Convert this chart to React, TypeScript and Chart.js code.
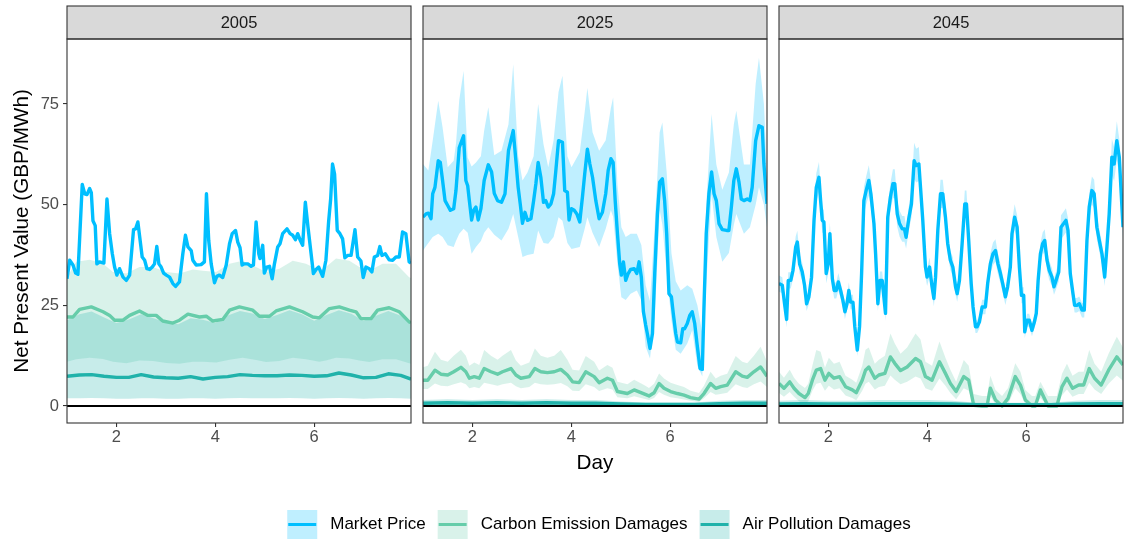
import React, { useEffect, useRef } from "react";
import { Chart, registerables } from "chart.js";

Chart.register(...registerables);

const FONT = '"Liberation Sans", Arial, Helvetica, sans-serif';

// ---------- labels ----------
const panelYears = ["2005", "2025", "2045"];
const seriesNames = ["Market Price", "Carbon Emission Damages", "Air Pollution Damages"];
const xTickValues = [2, 4, 6];
const yTickValues = [0, 25, 50, 75];
const xTitle = "Day";
const yTitle = "Net Present Value (GBP/MWh)";
const dayStart = 1;
const dayEnd = 1 + 167 / 24;
const zeroLineValue = 0;

// ---------- 2005 ----------
const mp2005Hours = [0,1.3,2.9,4.2,5.3,7.4,8.6,9.7,11,11.8,12.6,13.7,14.5,15.8,17.9,19.4,20.7,22,23.1,24.2,25.5,27.2,28.8,30.4,32.3,33.3,34.4,36.5,37.7,38.8,40.1,41.4,42.5,43.6,44.6,45.7,46.9,48.2,49.8,51.4,52.7,54.6,56.2,57.5,58.7,60.3,61.1,62.7,65.1,66.7,67.7,68.8,70,71.6,72.7,74,75.6,77.3,78.9,80.2,81.8,82.9,84,85,86.1,87.8,89.4,90.5,91.8,93.1,93.7,95,95.8,97,98.3,99.6,100.7,102.3,103.4,104.7,106.8,108.3,109.6,110.9,112,113.1,114.4,115.7,117,118.5,119.6,120.9,122.2,124.1,125.7,127,128,128.9,129.9,131.2,132.5,133.8,134.9,136.2,137.9,139.8,141.1,142.7,143.8,145.1,146.7,148,149.2,150.8,151.9,152.9,154.5,156.4,158.1,159.7,161.3,162.9,164.5,166.1,167];
const mp2005Values = [31.6,36.2,35,33,32.7,55,52.7,52.5,54,53,46,44.8,35.3,35.8,35.5,51.4,42.8,37.8,34.5,32.5,34.1,32,31.2,32.5,43.8,44,45.7,37,36.2,34.1,33.9,34.5,35.3,39.6,35.3,34.5,33,32.5,32,30.4,29.7,30.8,37.7,42.4,39.5,38.6,36.2,35,35.1,35.8,52.7,41.1,35.3,30.6,32.2,32.5,31.9,35,40.3,42.8,43.6,40.7,39.3,35,35.3,35.3,34.7,35,45.7,37.8,36.6,39.9,33,34.5,34.7,31.6,35.3,39.5,40.3,42.8,44,42.8,42.4,41.3,42.8,41.3,39.9,50.6,44.4,37.8,32.9,33.9,34.5,32.2,36.2,45.7,51.4,60.1,57.6,43.6,42.8,41.5,36.8,37.4,37.4,43.8,37,36,31.9,34.5,34.1,33.3,37,37.4,39.6,37.4,37.8,36.3,36.2,37,37,43.2,42.8,35.8,35.5];

const carbon2005Hours = [0,2.9,6.1,11.8,17.5,20.7,23.1,27.2,30.4,35.2,39.3,43.3,46.5,51.4,54.6,58.7,64.3,67.6,70.8,75.6,78.9,83.7,90.2,93.4,98.3,101.5,108,114.4,119.3,122.5,127.4,132.2,137.1,140.3,142.7,147.6,150.8,156.4,161.3,166.1,167];
const carbon2005Values = [22.1,22.1,24,24.6,23.4,22.5,21.3,21.3,22.5,23.6,22.5,22.5,21.1,20.6,21.3,22.8,22.1,22.3,21.1,21.5,23.8,24.6,23.8,22.3,22.3,23.6,24.6,23.4,22.1,21.9,24.2,24.6,23.8,23.4,21.7,21.7,23.8,24.4,23.4,20.9,20.7];
const carbonBand2005Hours = [0,4.5,11,17.5,22.3,28.8,35.2,41.7,48.2,54.6,61.1,65.9,72.4,78.9,85.3,91.8,96.6,103.1,109.6,116,122.5,125.7,130.6,137.1,141.9,146.7,153.2,159.7,166.1,167];
const carbonBand2005Low = [11,11.6,12,11.7,11,10.6,11.3,11.2,10.7,10.5,11,11,10.8,11.5,12,11.4,10.9,11.2,12,11.6,11,11.3,12,11.8,11.3,10.9,11.6,11.6,10.6,10.5];
const carbonBand2005High = [32,35.8,36.3,35.3,33.3,32.9,34.5,34.5,33.3,32.9,33.9,33.6,33.3,35.3,36.1,34.5,33.3,34.1,36.1,35.3,33.7,34.5,36.6,36.1,34.5,33.6,35.3,35.3,32,31.8];

const air2005Hours = [0,6,12,18,24,30,36,42,48,54,60,66,72,78,84,90,96,102,108,114,120,126,132,138,144,150,156,162,167];
const air2005Values = [7.4,7.7,7.8,7.4,7.1,7.1,7.8,7.2,7.0,6.9,7.3,6.7,7.1,7.3,7.8,7.6,7.5,7.5,7.7,7.6,7.4,7.5,8.2,7.7,7.0,7.1,8.0,7.6,6.7];
const airBand2005Low = [1.9,1.9,2.0,1.9,1.8,1.8,1.9,1.9,1.8,1.8,1.9,1.9,1.8,1.9,2.0,1.9,1.9,1.9,2.0,1.9,1.8,1.9,2.0,1.9,1.8,1.9,2.0,1.9,1.8];
const airBand2005High = [21.3,22.8,23.5,22,20.6,21.5,22.8,21.8,20.8,20.3,21.8,21.4,20.6,22.5,23.6,23,21.6,22.6,23.8,22.8,21.2,22.6,23.8,22.9,21.2,22.4,23.6,22.4,20.4];

// ---------- 2025 ----------
const mp2025Hours = [0,1.5,2.6,3.9,4.7,5.8,7.4,8.4,9.5,10.7,12,13.3,14.9,16,17.6,19.7,20.8,21.7,22.5,23.6,24.6,25.7,26.8,28.1,29.7,31.7,33.3,34.6,36.2,38.1,39.8,41.5,43.8,45.1,46.2,47.2,48.3,49.5,50.7,52.4,53.7,54.8,55.9,57.2,58.5,59.6,60.8,62.1,63.4,64.5,65.8,67.7,68.8,70.1,70.9,72.1,73.4,74.7,76.1,77.4,78.5,79.8,81,82.3,83.9,85.5,87.1,88.7,89.9,91.2,92.3,93.3,94.4,95.5,96.3,97.3,98.4,99.6,100.8,102.5,103.8,104.9,106,107,108.1,108.9,110.2,111.4,112.5,113.8,114.9,116.2,117.3,118.3,119.4,120.6,121.5,122.7,123.5,125.1,126.1,127,128.3,129.5,130.7,131.9,133.2,134.5,135.6,136.4,137.5,138.8,140.1,141.3,142.4,143.7,145.3,147.4,148.5,149.7,150.9,152.1,153.4,154.5,155.8,157.4,158.7,159.8,161.5,163.1,164.7,165.5,167];
const mp2025Values = [46.9,47.7,47.9,46.5,52.7,54.3,60.9,60.5,56,51,49.8,48.6,49,53.5,64.2,67.1,56,54.7,51,46.2,48.6,49.4,46.2,49,56,59.9,58.1,52.8,51,50.6,52.7,63.4,68.4,60.9,54.3,50.2,45.4,48.1,46.1,46.5,51,55.2,60.5,56.8,50.6,51,49.4,50.2,52.7,58.5,65.9,65.5,53.5,53.1,46.2,49,48.6,47.7,45.7,51.9,57.6,63.8,60.1,56.8,51,46.5,48.1,52.7,58.5,61.4,60.5,51,42.8,35.3,32.5,35.8,31.2,32.9,33.9,34.1,32.9,35.8,32,23.4,20.1,18,14.3,18,32.9,47.7,55.6,56.4,51,42.8,27.9,27.1,23,18,15.9,15.7,19.2,19.2,20.5,22.5,23.4,20.5,14.7,9.3,9.1,24.6,42.8,52.7,58.1,52.7,51,45.3,43.8,43.6,43.6,49.4,56,58.9,55.6,51.4,51,51.4,51,54.3,65.9,69.6,69.2,60.1,50.2];
const mpBand2025Hours = [0,2.6,4.7,7.4,9.5,12,14.9,16,17.6,19.7,21.7,23.6,25.7,28.1,29.7,31.7,34.6,38.1,41.5,43.8,46.2,48.3,50.7,53.7,55.9,58.5,60.8,63.4,65.8,67.7,70.1,72.1,76.1,78.5,79.8,82.3,85.5,88.7,91.2,92.3,94.4,96.3,98.4,100.8,103.8,106,108.1,110.2,112.5,114.9,116.2,118.3,120.6,122.7,125.1,128.3,130.7,133.2,135.6,137.5,140.1,142.4,145.3,148.5,150.9,152.1,155.8,158.7,161.5,163.1,165.5,167];
const mpBand2025Low = [38.6,40.5,42,42.8,42,39.9,39.5,41,42.8,44,43,37.8,39.5,41,43,44.4,42.5,41.1,44,47.7,42,37,37.5,37.8,43.6,40.5,40.3,42,46.9,46,40.5,39,39.5,44,46.9,43,39.5,44,48.6,47,35.3,27,26.3,27.9,28.7,26.3,14.7,11.8,22,48.6,45,33,21.3,14,13,15.5,18.8,10,7.3,30,52.7,42,35.8,38,45,47.7,42.8,44.4,50,54.3,50,44.4];
const mpBand2025High = [60.1,58.5,65.9,75.8,69.2,59.3,60.9,65.1,76,83.2,61.7,59.5,60.5,62,68.4,74.2,62.3,63.4,70,84.9,62,56,58,62,75,65,59.3,66,78,82,62,59.3,63,73,79,68,63.4,66,74,76.6,55,44.4,42,42.8,42.8,40,30,26,45,68,70.4,58,38,31,28.7,30,29.1,25,18,50,72.5,60,53.7,58,70,73.3,60,60,80,86.5,75,58];

const carbon2025Hours = [0,2.3,5.8,8.7,12,14.9,18.4,20.8,22.5,24.9,27.3,29.7,33,36.2,38.6,42.7,45.1,47.5,51.6,54.3,57.2,60.4,63.7,66.9,70.1,72.6,75.8,79,83.1,85.5,89.5,92,94.4,99.2,102.5,107.3,109.7,112.2,114.6,117,120.2,123.5,126.7,129.9,134,136.4,139.6,142.1,144.5,147.7,151.8,155,157.4,160.6,163.9,167];
const carbon2025Values = [6.4,6.4,8.9,7.9,7.7,8.5,9.6,8.5,6.9,7.3,6.9,9.3,8.5,7.9,8.5,9.3,7.7,6.9,7.3,9.3,8.5,8.3,8.5,9.1,7.7,6,5.8,8.5,7.3,5.8,6.9,6.4,3.6,3.1,4,3,2.5,3.3,5.6,4.4,3.6,3.1,2.7,2.1,1.7,3.1,5.6,4.4,4.8,5.2,8.5,7.4,7.1,8.5,9.7,7.4];
const carbonBand2025Low = [4.2,4.2,5.6,5,4.9,5.4,5.9,5.4,4.4,4.7,4.4,5.8,5.4,5,5.4,5.8,4.9,4.4,4.7,5.8,5.4,5.3,5.4,5.7,4.9,3.8,3.7,5.4,4.7,3.7,4.4,4.1,2.2,1.9,2.4,1.8,1.5,2,3.5,2.8,2.2,1.9,1.6,1.3,1,1.9,3.5,2.8,3,3.3,5.4,4.7,4.5,5.4,6.1,4.7];
const carbonBand2025High = [9.6,10,13.5,11.5,11,12.5,14,12.5,10,10.8,10.2,13.9,12.5,11.5,12.5,13.9,11.3,10,10.8,14.3,12.5,12,12.5,13.9,11.5,9,8.8,12.4,11,8.8,10.2,9.5,6,5.4,6.5,5.2,4.5,5.5,8.1,6.8,5.8,5.2,4.7,3.8,3.2,5,8.5,6.8,7.5,8,12.4,11,10.6,12.5,14.7,11];

const air2025Hours = [0,12,24,36,48,60,72,84,96,108,120,132,144,156,167];
const air2025Values = [0.7,0.8,0.7,0.8,0.7,0.8,0.7,0.7,0.5,0.4,0.4,0.4,0.6,0.7,0.7];
const airBand2025Low = [0.2,0.2,0.2,0.2,0.2,0.2,0.2,0.2,0.1,0.1,0.1,0.1,0.1,0.2,0.2];
const airBand2025High = [1.5,1.7,1.5,1.7,1.5,1.7,1.5,1.5,1.1,0.9,0.9,0.9,1.3,1.5,1.5];

// ---------- 2045 ----------
const mp2045Hours = [0,1.6,2.7,3.7,4.5,5.7,6.8,8.1,8.9,10,11.3,12.4,13.4,14.5,15.8,17,18.1,19.4,20.2,21,21.8,22.9,23.9,24.7,25.9,26.8,27.8,28.8,29.9,31,32,33,33.9,34.7,35.9,36.8,38,39.1,40.1,41.2,42.3,43.6,44.6,46.1,46.9,48,49,50.1,50.9,51.7,52.8,54.1,55.3,56.2,57.4,58.5,59.8,60.9,61.7,63,64.3,65.6,66.6,67.9,68.7,69.8,71.1,71.9,73.1,74.3,75.2,76,77.1,78.4,79.5,80.8,81.9,83.2,84.4,85.7,86.5,87.6,88.9,90.2,91,92.1,93.3,94.2,95.4,96.2,97.3,98.6,100.2,101.3,102.6,103.9,105.1,106.3,107.5,108.6,109.9,111,112.3,113.1,114.4,115.6,116.7,117.7,118.8,119.3,120.4,121.5,122.8,124,124.9,125.8,126.9,128,129,130.1,131.2,132.5,133.5,134.5,135.8,136.9,138.2,139.3,140.3,141.4,142.5,143.5,144.6,145.8,147.1,148.2,149.5,150.6,151.9,153,154.3,155.5,156.8,158.1,159.2,160.3,161.6,162.7,164,165.2,167];
const mp2045Values = [30.4,30,25.4,21.5,31.2,31.2,33.7,39.5,40.7,35.3,33.3,30,25.4,27.1,32,46.1,54.3,56.8,51,46.1,45.7,32.9,35.3,42.8,31.6,28.7,28.7,30.8,28.7,26.3,23.4,25.4,28.7,25.8,25.8,19.7,13.9,19.7,32.9,51,53.5,56,52.7,45.3,37.8,25.4,31.2,31.2,27.1,23,46.9,51.9,55.2,55.2,47.7,45.3,44,44,41.9,46.5,50.2,60.9,59.7,60.1,54.3,46.1,34.5,32,34.5,29.6,26.7,32,43.6,52.7,52.7,46.9,40.3,36.2,34.5,29.6,27.9,31.2,40.3,50.2,50.2,41.1,30.4,24.6,19.7,19.7,20.9,24.6,24.6,30.4,35.3,37.8,38.6,35.3,32.9,30.4,27.1,29.6,34.5,42.8,46.9,44.4,34.5,27.5,27.5,18.4,21.3,21.3,18.8,20.9,23,31.2,37.8,40.3,41.1,36.2,33.7,32,29.6,31.2,33.3,44.4,45.3,46.1,43.6,32.9,28.7,25,25,25.4,23.8,23.8,41.1,49.4,53.5,52.7,44.4,41.1,37.8,32,39.5,47.7,61.8,60.1,65.9,61.8,44.4];
const mpBand2045HalfWidth = [2,2,2,2,2,2,2.2,2.6,2.8,2.4,2.2,2,1.8,1.8,2.2,3,3.5,3.8,3.3,3,3,2.4,2.6,2.8,2.2,2,2,2.2,2,1.8,1.8,1.8,2,1.8,1.8,1.6,1.5,1.6,2.4,3.3,3.5,3.8,3.4,3,2.6,1.8,2.2,2.2,2,1.8,3,3.4,3.6,3.6,3.2,3.2,3.2,3.2,2.8,3,3.3,4.5,4.2,4.2,3.6,3,2.4,2.2,2.4,2,1.9,2.2,3,3.5,3.5,3,2.6,2.4,2.4,2,2,2.2,2.8,3.3,3.3,2.8,2.2,1.8,1.6,1.6,1.6,1.8,1.8,2.2,2.6,2.8,2.8,2.6,2.4,2.2,2,2,2.4,3,3.2,3,2.4,2,2,1.6,1.6,1.6,1.5,1.6,1.8,2.2,2.6,2.8,2.8,2.6,2.4,2.2,2,2.2,2.4,3,3,3,3,2.4,2,1.8,1.8,1.8,1.8,1.8,2.8,3.3,3.5,3.5,3,2.8,2.6,2.2,2.6,3.2,4.5,4.2,4.8,4.5,3];

const carbon2045Hours = [0,2.4,5.2,7.3,9.7,12.6,14.2,16.2,18.1,20.2,22.3,24.2,26.7,29.4,32.3,35.6,37.5,40.4,42,43.6,46.5,48.5,51.4,54.1,56.2,59,62.2,66.3,68.7,71.1,74.3,77.9,80.8,83.2,86,89.7,92.1,94.5,98.6,101,102.6,105.1,108.3,111.2,114.7,117.2,119.6,122.8,124.4,126.9,130.6,134.9,137.4,139.8,142.5,145.5,147.9,150.6,153.2,156.4,160,164,167];
const carbon2045Values = [5.6,4.4,6,4.4,3.1,2.1,3.1,6.4,8.9,9.3,6.4,8.1,6.9,7.3,4.8,4,3.3,6.4,8.9,9.7,6.9,7.7,8.1,12.2,10.6,8.8,9.7,11.8,11,7.3,6.4,11,8.1,5.6,3.6,7.3,6.4,0.2,0,0,4.4,1.5,0,1.9,7.3,5.2,1.5,0,0,4,0,0,4.8,6.9,4.4,5.2,5.2,9.3,6.9,5.2,8.9,12.2,10.2];
const carbonBand2045Low = [3.2,2.3,3.5,2.3,1.2,0.5,1.2,3.8,5.5,5.8,3.8,5,4.1,4.4,2.6,2,1.4,3.8,5.5,6,4.1,4.7,5,7.6,6.5,5.4,6,7.3,6.8,4.4,3.8,6.8,5,3.2,1.7,4.4,3.8,0,0,0,2.4,0.4,0,0.5,4.4,3,0.4,0,0,2,0,0,2.7,4.1,2.3,3,3,5.8,4.1,3,5.5,7.6,6.3];
const carbonBand2045High = [8.5,7,9,7,5.5,4.5,5.5,10,13.9,13.5,9.5,12,10.5,11,7.5,6.5,5.8,10,14,14.5,10.5,11.5,12.5,18,15.5,13,14.5,18,16.5,11,10,16,12,9,6,11.4,10,3,2.5,2.5,7.5,4,2.5,4.5,10.6,8.5,4,2.5,2.5,6,2.5,2.5,8,10.5,7.5,8.5,8.5,13.9,10.5,8.5,13,17.2,14.5];

const air2045Hours = [0,12,24,36,48,60,72,84,96,108,120,132,144,156,167];
const air2045Values = [0.5,0.6,0.5,0.5,0.6,0.6,0.6,0.5,0.3,0.3,0.3,0.3,0.5,0.6,0.6];
const airBand2045Low = [0.1,0.1,0.1,0.1,0.1,0.1,0.1,0.1,0,0,0,0,0.1,0.1,0.1];
const airBand2045High = [1.3,1.5,1.3,1.3,1.5,1.5,1.5,1.3,0.8,0.8,0.8,0.8,1.3,1.5,1.5];

// ---------- styling ----------
const lineColors = ["#00BFFF", "#66CDAA", "#20B2AA"];
const bandColors = ["rgba(0,191,255,0.25)", "rgba(102,205,170,0.25)", "rgba(32,178,170,0.25)"];

const CANVAS_W = 1124;
const CANVAS_H = 539;
const PANEL_LEFTS = [67, 423, 779];
const PANEL_W = 344;
const PLOT_TOP = 39;
const PLOT_BOTTOM = 423;
const STRIP_TOP = 6;
const X_AXIS_H = 52.4;
const Y_AXIS_W = 67;
const Y_MIN = -4.22;
const Y_MAX = 91.14;
const LEGEND_CX = 599;
const LINE_W = 3.4;

const toPoints = (hours: number[], vals: number[]) => {
  const n = Math.min(hours.length, vals.length);
  const out: { x: number; y: number }[] = [];
  for (let i = 0; i < n; i++) out.push({ x: dayStart + hours[i] / 24, y: vals[i] });
  return out;
};

const panels = [
  {
    year: panelYears[0],
    mp: toPoints(mp2005Hours, mp2005Values),
    mpBand: null as any,
    carbon: toPoints(carbon2005Hours, carbon2005Values),
    carbonBand: [toPoints(carbonBand2005Hours, carbonBand2005Low), toPoints(carbonBand2005Hours, carbonBand2005High)],
    air: toPoints(air2005Hours, air2005Values),
    airBand: [toPoints(air2005Hours, airBand2005Low), toPoints(air2005Hours, airBand2005High)],
  },
  {
    year: panelYears[1],
    mp: toPoints(mp2025Hours, mp2025Values),
    mpBand: [toPoints(mpBand2025Hours, mpBand2025Low), toPoints(mpBand2025Hours, mpBand2025High)],
    carbon: toPoints(carbon2025Hours, carbon2025Values),
    carbonBand: [toPoints(carbon2025Hours, carbonBand2025Low), toPoints(carbon2025Hours, carbonBand2025High)],
    air: toPoints(air2025Hours, air2025Values),
    airBand: [toPoints(air2025Hours, airBand2025Low), toPoints(air2025Hours, airBand2025High)],
  },
  {
    year: panelYears[2],
    mp: toPoints(mp2045Hours, mp2045Values),
    mpBand: [
      toPoints(mp2045Hours, mp2045Values.map((v, i) => v - mpBand2045HalfWidth[i])),
      toPoints(mp2045Hours, mp2045Values.map((v, i) => v + mpBand2045HalfWidth[i])),
    ],
    carbon: toPoints(carbon2045Hours, carbon2045Values),
    carbonBand: [toPoints(carbon2045Hours, carbonBand2045Low), toPoints(carbon2045Hours, carbonBand2045High)],
    air: toPoints(air2045Hours, air2045Values),
    airBand: [toPoints(air2045Hours, airBand2045Low), toPoints(air2045Hours, airBand2045High)],
  },
];

function lineDs(data: any[], color: string, width: number, order: number) {
  return {
    data,
    borderColor: color,
    backgroundColor: color,
    borderWidth: width,
    pointRadius: 0,
    tension: 0,
    fill: false,
    order,
    clip: 0,
    borderJoinStyle: "round",
  };
}

function bandDs(band: any[], color: string, order: number) {
  return [
    { data: band[0], borderColor: "rgba(0,0,0,0)", borderWidth: 0, pointRadius: 0, tension: 0, fill: false, order, clip: 0 },
    { data: band[1], borderColor: "rgba(0,0,0,0)", backgroundColor: color, borderWidth: 0, pointRadius: 0, tension: 0, fill: "-1", order, clip: 0 },
  ];
}

function buildDatasets(p: any) {
  const ds: any[] = [];
  ds.push(lineDs([{ x: dayStart, y: zeroLineValue }, { x: dayEnd, y: zeroLineValue }], "#000000", 2, 0));
  ds.push(lineDs(p.air, lineColors[2], LINE_W, 1));
  ds.push(lineDs(p.carbon, lineColors[1], LINE_W, 2));
  ds.push(lineDs(p.mp, lineColors[0], LINE_W, 3));
  if (p.mpBand) ds.push(...bandDs(p.mpBand, bandColors[0], 30));
  ds.push(...bandDs(p.carbonBand, bandColors[1], 20));
  ds.push(...bandDs(p.airBand, bandColors[2], 10));
  return ds;
}

const panelPlugin = (year: string) => ({
  id: "panelDecor" + year,
  afterDraw(chart: any) {
    const { ctx, chartArea } = chart;
    const { left, right, top, bottom } = chartArea;
    ctx.save();
    ctx.fillStyle = "#D9D9D9";
    ctx.fillRect(left, STRIP_TOP, right - left, top - STRIP_TOP);
    ctx.strokeStyle = "#333333";
    ctx.lineWidth = 1.1;
    ctx.strokeRect(left, STRIP_TOP, right - left, top - STRIP_TOP);
    ctx.strokeRect(left, top, right - left, bottom - top);
    ctx.fillStyle = "#1A1A1A";
    ctx.font = `16.5px ${FONT}`;
    ctx.textAlign = "center";
    ctx.textBaseline = "middle";
    ctx.fillText(year, (left + right) / 2, (STRIP_TOP + top) / 2 + 0.5);
    ctx.restore();
  },
});

const legendPlugin = {
  id: "bottomLegend",
  afterDraw(chart: any) {
    const ctx = chart.ctx;
    ctx.save();
    ctx.font = `17px ${FONT}`;
    const sw = 30;
    const sh = 29;
    const gapText = 13;
    const gapItem = 12;
    const widths = seriesNames.map((n) => ctx.measureText(n).width);
    const total = 3 * sw + 3 * gapText + widths.reduce((a, b) => a + b, 0) + 2 * gapItem;
    let x = LEGEND_CX - total / 2;
    const keyTop = 510;
    const midY = keyTop + sh / 2;
    seriesNames.forEach((name, i) => {
      ctx.fillStyle = bandColors[i];
      ctx.fillRect(x, keyTop, sw, sh);
      ctx.strokeStyle = lineColors[i];
      ctx.lineWidth = 3;
      ctx.beginPath();
      ctx.moveTo(x + 1, midY);
      ctx.lineTo(x + sw - 1, midY);
      ctx.stroke();
      ctx.fillStyle = "#000000";
      ctx.textAlign = "left";
      ctx.textBaseline = "middle";
      ctx.fillText(name, x + sw + gapText, midY - 0.5);
      x += sw + gapText + widths[i] + gapItem;
    });
    ctx.restore();
  },
};

function buildConfig(p: any, i: number): any {
  const left = PANEL_LEFTS[i];
  const right = left + PANEL_W;
  const padLeft = i === 0 ? left - Y_AXIS_W : left;
  const padRight = CANVAS_W - right;
  const padBottom = CANVAS_H - PLOT_BOTTOM - X_AXIS_H;
  return {
    type: "line",
    data: { datasets: buildDatasets(p) },
    options: {
      responsive: false,
      animation: false,
      devicePixelRatio: 1,
      events: [],
      layout: { padding: { left: padLeft, right: padRight, top: PLOT_TOP, bottom: padBottom } },
      plugins: {
        legend: { display: false },
        tooltip: { enabled: false },
        filler: { drawTime: "beforeDatasetsDraw" },
      },
      scales: {
        x: {
          type: "linear",
          min: dayStart,
          max: dayEnd,
          afterBuildTicks: (s: any) => {
            s.ticks = xTickValues.map((v) => ({ value: v }));
          },
          afterFit: (s: any) => {
            s.height = X_AXIS_H;
          },
          grid: { drawOnChartArea: false, drawTicks: true, tickLength: 4, color: "#333333", lineWidth: 1.1 },
          border: { display: false },
          ticks: { color: "#4D4D4D", font: { family: FONT, size: 16.5 }, padding: 1, maxRotation: 0, autoSkip: false },
          title: {
            display: i === 1,
            text: xTitle,
            color: "#000000",
            font: { family: FONT, size: 20.7 },
            padding: { top: 0, bottom: 0 },
          },
        },
        y: {
          type: "linear",
          display: i === 0,
          min: Y_MIN,
          max: Y_MAX,
          afterBuildTicks: (s: any) => {
            s.ticks = yTickValues.map((v) => ({ value: v }));
          },
          afterFit: (s: any) => {
            if (i === 0) s.width = Y_AXIS_W;
          },
          grid: { drawOnChartArea: false, drawTicks: true, tickLength: 4, color: "#333333", lineWidth: 1.1 },
          border: { display: false },
          ticks: { color: "#4D4D4D", font: { family: FONT, size: 16.5 }, padding: 4 },
          title: {
            display: i === 0,
            text: yTitle,
            color: "#000000",
            font: { family: FONT, size: 20.7 },
            padding: { top: 9.6, bottom: 0 },
          },
        },
      },
    },
    plugins: i === 1 ? [panelPlugin(p.year), legendPlugin] : [panelPlugin(p.year)],
  };
}

export default function App() {
  const r0 = useRef<HTMLCanvasElement | null>(null);
  const r1 = useRef<HTMLCanvasElement | null>(null);
  const r2 = useRef<HTMLCanvasElement | null>(null);
  const refs = [r0, r1, r2];

  useEffect(() => {
    document.body.style.margin = "0";
    const charts = panels.map((p, i) => new Chart(refs[i].current as HTMLCanvasElement, buildConfig(p, i)));
    return () => {
      charts.forEach((c) => c.destroy());
    };
  }, []);

  return (
    <div style={{ position: "relative", width: CANVAS_W, height: CANVAS_H, background: "#ffffff", overflow: "hidden" }}>
      {refs.map((r, i) => (
        <canvas
          key={i}
          ref={r}
          width={CANVAS_W}
          height={CANVAS_H}
          style={{ position: "absolute", left: 0, top: 0, width: CANVAS_W, height: CANVAS_H }}
        />
      ))}
    </div>
  );
}
